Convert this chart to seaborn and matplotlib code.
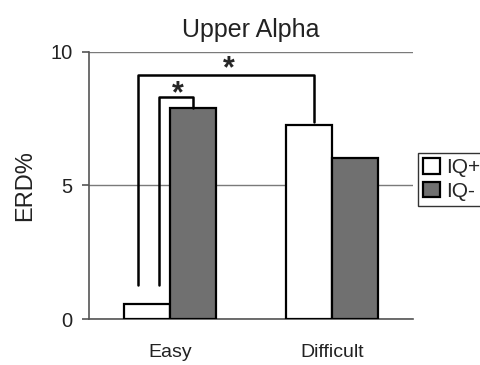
import pandas as pd
import numpy as np
import matplotlib.pyplot as plt
import seaborn as sns

conditions = ["Easy", "Easy", "Difficult", "Difficult"]
groups = ["IQ+", "IQ-", "IQ+", "IQ-"]
erd = [0.55, 7.9, 7.27, 6.03]

# significance brackets (x in category units, y in ERD%)
outer_x = [-0.20, -0.20, 0.89, 0.89]
outer_y = [1.27, 9.14, 9.14, 7.38]
inner_x = [-0.07, -0.07, 0.14, 0.14]
inner_y = [1.27, 8.31, 8.31, 7.9]
stars = [(0.36, 8.8), (0.05, 7.86)]

df = pd.DataFrame({"cond": conditions, "group": groups, "erd": erd})

sns.set_style("white")
plt.rcParams['font.family'] = ['Liberation Sans', 'DejaVu Sans']

fig = plt.figure(figsize=(4.81, 3.65), dpi=100)
ax = fig.add_axes([0.185, 0.126, 0.674, 0.732])

sns.barplot(data=df, x="cond", y="erd", hue="group", order=["Easy", "Difficult"],
            palette={"IQ+": "white", "IQ-": "#707070"}, width=0.57,
            edgecolor="black", linewidth=1.6, ax=ax, zorder=3)

ax.set_xlim(-0.5, 1.5)
ax.set_ylim(0, 10)
ax.set_yticks([0, 5, 10])
ax.yaxis.grid(True, color="#7a7a7a", linewidth=1)
ax.set_axisbelow(True)
ax.set_xticks([-0.5, 0.5, 1.5], minor=True)
ax.tick_params(axis="x", which="major", length=0, pad=18, labelsize=14, labelcolor="#222222")
ax.tick_params(axis="x", which="minor", length=5, width=1.2, color="#555555", direction="out")
ax.tick_params(axis="y", length=5, width=1.2, color="#555555", direction="out", left=True,
               labelsize=14.5, pad=7, labelcolor="#222222")
for s in ["top", "right"]:
    ax.spines[s].set_visible(False)
for s in ["left", "bottom"]:
    ax.spines[s].set_color("#555555")
    ax.spines[s].set_linewidth(1.2)
ax.set_xlabel("")
ax.set_ylabel("ERD%", fontsize=17, labelpad=10, color="#222222")
ax.set_title("Upper Alpha", fontsize=18, pad=11, color="#222222")

ax.plot(outer_x, outer_y, color="black", linewidth=1.8, zorder=4)
ax.plot(inner_x, inner_y, color="black", linewidth=1.8, zorder=4)
for sx, sy in stars:
    ax.text(sx, sy, "*", ha="center", va="bottom", fontsize=22, fontweight="bold", zorder=5)

ax.legend(loc="upper left", bbox_to_anchor=(0.869, 0.581), bbox_transform=fig.transFigure,
          frameon=True, fancybox=False, edgecolor="black", fontsize=15,
          handlelength=0.8, handleheight=0.8, handletextpad=0.3,
          borderpad=0.25, labelspacing=0.2, borderaxespad=0)
ax.get_legend().get_frame().set_linewidth(1.0)

fig.savefig("out.png", dpi=100)
